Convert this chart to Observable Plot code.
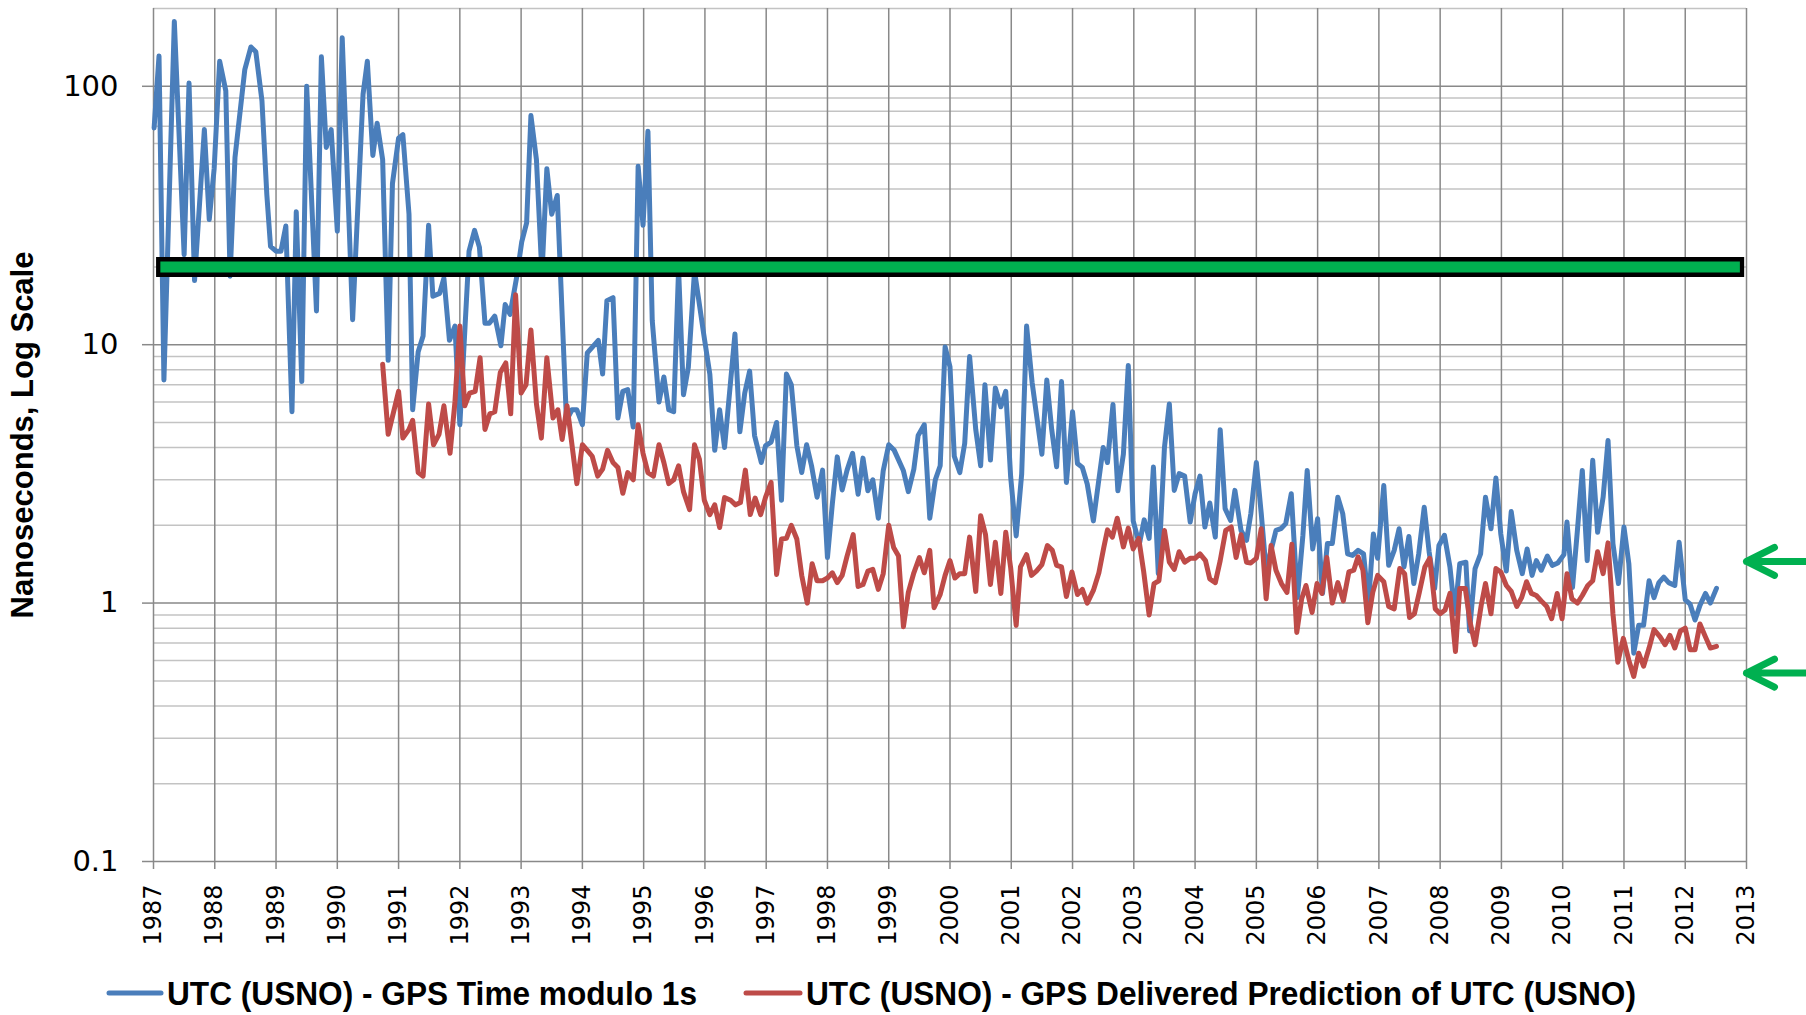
<!DOCTYPE html>
<html><head><meta charset="utf-8">
<script src="https://cdn.jsdelivr.net/npm/d3@7"></script>
<script src="https://cdn.jsdelivr.net/npm/@observablehq/plot@0.6"></script>
<style>
body{margin:0;background:#fff;}
#chart{width:1806px;height:1015px;position:relative;overflow:hidden;}
#chart svg{display:block;}
</style></head><body><div id="chart"></div>
<script>
// ---- Data ----
const blueYear = [1987.01,1987.09,1987.17,1987.34,1987.50,1987.58,1987.67,1987.83,1987.91,1987.99,1988.08,1988.18,1988.25,1988.33,1988.49,1988.59,1988.67,1988.77,1988.85,1988.91,1989.00,1989.08,1989.16,1989.26,1989.33,1989.42,1989.50,1989.66,1989.74,1989.82,1989.90,1990.00,1990.08,1990.25,1990.42,1990.49,1990.58,1990.65,1990.74,1990.83,1990.90,1991.00,1991.07,1991.17,1991.23,1991.32,1991.40,1991.49,1991.56,1991.67,1991.74,1991.83,1991.92,1992.00,1992.15,1992.24,1992.32,1992.41,1992.48,1992.57,1992.67,1992.74,1992.82,1992.93,1993.01,1993.09,1993.16,1993.25,1993.34,1993.42,1993.50,1993.59,1993.74,1993.83,1993.91,1994.00,1994.08,1994.26,1994.33,1994.40,1994.50,1994.58,1994.66,1994.74,1994.83,1994.91,1994.99,1995.07,1995.14,1995.25,1995.33,1995.41,1995.49,1995.57,1995.65,1995.73,1995.83,1995.98,1996.08,1996.16,1996.24,1996.32,1996.49,1996.57,1996.65,1996.73,1996.81,1996.92,1996.99,1997.08,1997.17,1997.25,1997.33,1997.41,1997.50,1997.58,1997.66,1997.74,1997.83,1997.92,1998.00,1998.08,1998.16,1998.24,1998.32,1998.41,1998.50,1998.58,1998.66,1998.74,1998.83,1998.91,1999.00,1999.09,1999.24,1999.32,1999.41,1999.48,1999.58,1999.67,1999.76,1999.84,1999.92,2000.00,2000.07,2000.16,2000.24,2000.32,2000.42,2000.50,2000.57,2000.66,2000.74,2000.83,2000.91,2000.99,2001.08,2001.17,2001.25,2001.34,2001.41,2001.50,2001.58,2001.66,2001.74,2001.82,2001.90,2002.00,2002.08,2002.16,2002.24,2002.34,2002.42,2002.50,2002.57,2002.66,2002.74,2002.83,2002.91,2002.99,2003.09,2003.17,2003.25,2003.32,2003.40,2003.50,2003.58,2003.66,2003.74,2003.83,2003.92,2004.00,2004.08,2004.16,2004.24,2004.33,2004.41,2004.49,2004.58,2004.65,2004.75,2004.84,2004.91,2005.00,2005.08,2005.16,2005.24,2005.32,2005.40,2005.48,2005.57,2005.67,2005.76,2005.83,2005.92,2006.00,2006.08,2006.16,2006.24,2006.33,2006.41,2006.49,2006.57,2006.66,2006.75,2006.83,2006.91,2006.98,2007.08,2007.16,2007.25,2007.33,2007.41,2007.49,2007.57,2007.65,2007.74,2007.82,2007.91,2007.98,2008.07,2008.16,2008.24,2008.32,2008.42,2008.48,2008.57,2008.66,2008.74,2008.83,2008.91,2008.99,2009.08,2009.16,2009.25,2009.34,2009.42,2009.50,2009.57,2009.65,2009.75,2009.83,2009.92,2010.02,2010.07,2010.16,2010.24,2010.32,2010.40,2010.49,2010.57,2010.66,2010.74,2010.82,2010.91,2011.00,2011.08,2011.16,2011.24,2011.32,2011.41,2011.49,2011.57,2011.65,2011.73,2011.83,2011.90,2012.00,2012.08,2012.16,2012.24,2012.33,2012.41,2012.51];
const blueNs = [69,131,7.3,178,22.3,103,17.7,68,30.5,48,125,96,18.4,53,116,142,136,88,38,24,23,23,28.8,5.5,32.7,7.2,100,13.5,130,58,68,27.5,154,12.5,93,125,54,72,52,8.7,42,63,65,32,5.6,9.4,10.8,29,15.4,15.8,18.1,10.4,11.8,4.9,23,27.7,23.8,12.1,12.1,12.9,9.9,14.3,13.1,18.4,25,29.6,77,52,18.7,48,32,37.8,5.1,5.6,5.6,4.9,9.3,10.4,7.7,14.8,15.2,5.2,6.6,6.7,4.8,49,29,67,12.4,6.0,7.5,5.6,5.5,19.6,6.4,8.2,19.3,11.0,7.7,3.9,5.6,4.0,11.0,4.6,6.5,7.9,4.45,3.5,4.07,4.2,5.0,2.5,7.7,7.0,4.07,3.2,4.1,3.4,2.57,3.27,1.5,2.43,3.68,2.74,3.27,3.8,2.64,3.64,2.72,3.0,2.13,3.25,4.1,3.9,3.25,2.7,3.3,4.45,4.9,2.13,3.0,3.4,9.8,8.2,3.7,3.2,4.15,9.0,4.7,3.4,7.0,3.58,6.8,5.75,6.6,3.08,1.82,3.16,11.8,7.15,5.4,3.77,7.3,4.7,3.37,7.2,2.93,5.5,3.47,3.35,2.89,2.08,2.89,4.0,3.5,5.87,2.72,3.77,8.3,2.08,1.69,2.1,1.78,3.36,1.3,4.0,5.9,2.73,3.17,3.1,2.06,2.65,3.1,1.97,2.44,1.8,4.69,2.32,2.09,2.73,1.91,1.75,2.22,3.5,2.22,1.34,1.6,1.91,1.94,2.03,2.65,1.05,1.83,3.26,1.62,2.12,1.09,1.7,1.7,2.57,2.22,1.55,1.53,1.6,1.55,1.0,1.85,1.49,2.85,1.4,1.6,1.94,1.38,1.81,1.19,1.55,2.35,1.58,1.14,1.67,1.83,1.38,0.91,1.42,1.44,0.78,1.36,1.55,2.57,1.94,3.05,1.85,1.33,2.26,1.6,1.3,1.62,1.28,1.46,1.34,1.52,1.4,1.43,1.54,2.06,1.15,1.91,3.26,1.46,3.57,1.88,2.57,4.26,1.7,1.19,1.97,1.42,0.64,0.82,0.82,1.22,1.05,1.2,1.26,1.2,1.17,1.72,1.03,0.99,0.86,0.98,1.09,1.0,1.14];

const redYear = [1990.74,1990.83,1991.00,1991.07,1991.17,1991.23,1991.32,1991.40,1991.49,1991.57,1991.66,1991.74,1991.84,1991.92,1992.00,1992.08,1992.16,1992.25,1992.33,1992.41,1992.49,1992.57,1992.66,1992.75,1992.83,1992.91,1993.00,1993.08,1993.16,1993.25,1993.33,1993.42,1993.52,1993.60,1993.67,1993.75,1993.91,1994.00,1994.08,1994.16,1994.25,1994.33,1994.41,1994.50,1994.58,1994.66,1994.74,1994.83,1994.91,1994.99,1995.07,1995.16,1995.25,1995.33,1995.41,1995.49,1995.57,1995.65,1995.75,1995.83,1995.91,1995.99,1996.08,1996.16,1996.24,1996.32,1996.42,1996.50,1996.58,1996.66,1996.74,1996.82,1996.91,1996.99,1997.08,1997.17,1997.25,1997.33,1997.41,1997.50,1997.58,1997.67,1997.75,1997.83,1997.92,1998.00,1998.08,1998.16,1998.24,1998.32,1998.42,1998.50,1998.58,1998.66,1998.74,1998.83,1998.91,1999.00,1999.08,1999.16,1999.24,1999.32,1999.41,1999.50,1999.58,1999.67,1999.74,1999.84,1999.92,2000.00,2000.08,2000.16,2000.24,2000.32,2000.42,2000.50,2000.58,2000.66,2000.74,2000.83,2000.91,2000.99,2001.08,2001.15,2001.25,2001.33,2001.41,2001.50,2001.59,2001.67,2001.74,2001.82,2001.90,2001.99,2002.08,2002.16,2002.24,2002.34,2002.43,2002.51,2002.57,2002.65,2002.73,2002.83,2002.91,2002.99,2003.08,2003.16,2003.25,2003.33,2003.41,2003.50,2003.58,2003.66,2003.74,2003.83,2003.92,2004.00,2004.08,2004.17,2004.24,2004.33,2004.41,2004.50,2004.59,2004.67,2004.75,2004.84,2004.91,2005.00,2005.08,2005.16,2005.24,2005.32,2005.41,2005.50,2005.58,2005.66,2005.74,2005.81,2005.91,2005.99,2006.07,2006.15,2006.24,2006.33,2006.42,2006.51,2006.59,2006.66,2006.74,2006.82,2006.90,2006.98,2007.08,2007.16,2007.25,2007.34,2007.42,2007.50,2007.58,2007.66,2007.75,2007.83,2007.92,2008.00,2008.08,2008.16,2008.25,2008.32,2008.41,2008.49,2008.57,2008.67,2008.74,2008.83,2008.91,2008.99,2009.08,2009.16,2009.25,2009.33,2009.41,2009.49,2009.57,2009.65,2009.74,2009.82,2009.91,2009.99,2010.07,2010.15,2010.24,2010.32,2010.41,2010.49,2010.57,2010.66,2010.74,2010.82,2010.90,2010.99,2011.08,2011.16,2011.24,2011.32,2011.41,2011.49,2011.59,2011.67,2011.75,2011.83,2011.92,2012.00,2012.08,2012.16,2012.24,2012.33,2012.41,2012.51];
const redNs = [8.4,4.5,6.6,4.35,4.7,5.1,3.2,3.1,5.9,4.1,4.5,5.8,3.8,6.0,11.8,5.8,6.5,6.6,8.9,4.7,5.4,5.5,7.8,8.5,5.4,15.6,6.5,7.0,11.4,5.9,4.35,8.9,5.2,5.6,4.3,5.8,2.9,4.1,3.9,3.7,3.1,3.3,3.9,3.5,3.35,2.66,3.2,3.0,4.9,3.8,3.2,3.1,4.1,3.5,2.9,3.0,3.4,2.7,2.3,4.1,3.6,2.5,2.2,2.4,1.96,2.56,2.5,2.4,2.45,3.27,2.2,2.55,2.2,2.57,2.93,1.29,1.77,1.78,2.0,1.77,1.28,1.0,1.42,1.22,1.22,1.25,1.31,1.2,1.28,1.52,1.84,1.16,1.18,1.33,1.35,1.13,1.3,2.0,1.64,1.52,0.81,1.1,1.31,1.5,1.31,1.6,0.96,1.08,1.28,1.46,1.25,1.3,1.3,1.8,1.11,2.18,1.84,1.18,1.72,1.09,1.88,1.37,0.82,1.38,1.54,1.28,1.33,1.41,1.67,1.6,1.4,1.38,1.06,1.32,1.08,1.13,1.0,1.12,1.31,1.64,1.92,1.8,2.13,1.65,1.95,1.62,1.78,1.33,0.9,1.19,1.22,1.91,1.44,1.35,1.58,1.44,1.49,1.49,1.55,1.46,1.24,1.2,1.46,1.91,1.97,1.5,1.84,1.44,1.43,1.49,1.94,1.04,1.67,1.34,1.19,1.1,1.69,0.77,1.04,1.17,0.92,1.19,1.09,1.5,1.0,1.2,1.02,1.32,1.34,1.51,1.34,0.84,1.1,1.28,1.21,0.97,0.95,1.36,1.3,0.88,0.91,1.1,1.38,1.49,0.95,0.91,0.94,1.09,0.65,1.14,1.14,0.84,0.69,0.98,1.19,0.91,1.36,1.32,1.17,1.11,0.97,1.05,1.21,1.09,1.07,1.02,0.97,0.87,1.09,0.87,1.3,1.04,1.0,1.07,1.17,1.22,1.58,1.3,1.71,0.91,0.59,0.73,0.6,0.52,0.64,0.57,0.67,0.79,0.74,0.69,0.75,0.67,0.78,0.8,0.66,0.66,0.83,0.74,0.67,0.68];

const yearTicks = d3.range(1987, 2014);
const yMajor = [0.1, 1, 10, 100];
const yMinor = [0.2,0.3,0.4,0.5,0.6,0.7,0.8,0.9,2,3,4,5,6,7,8,9,20,30,40,50,60,70,80,90,200];
const specLevel = 20;           // 20 ns specification bar
const specFrom = 1987.05, specTo = 2012.97;
const arrowLevels = [1.45, 0.536];
const seriesNames = ["UTC (USNO) - GPS Time modulo 1s", "UTC (USNO) - GPS Delivered Prediction of UTC (USNO)"];
const seriesColors = ["#4a7ebb", "#be4b48"];
const yTitle = "Nanoseconds, Log Scale";

const blue = blueYear.map((x, i) => ({x, y: blueNs[i]}));
const red = redYear.map((x, i) => ({x, y: redNs[i]}));
const spec = [{y: specLevel, x1: specFrom, x2: specTo}];
const specInner = [{y: specLevel, x1: specFrom + 0.07, x2: specTo - 0.07}];
const arrows = arrowLevels.map(v => ({v, x1: 2014.6, x2: 2013}));

const gridColor = "#898989", minorColor = "#c3c3c3";
const boldFont = "'Liberation Sans Narrow', 'Arial Narrow', 'Liberation Sans', sans-serif";

const chart = Plot.plot({
  width: 1806, height: 955,
  marginLeft: 153, marginRight: 60, marginTop: 8, marginBottom: 94,
  style: {fontFamily: "DejaVu Sans", background: "white", color: "black"},
  x: {domain: [1987, 2013], axis: null},
  y: {type: "log", domain: [0.1, 200], axis: null},
  marks: [
    Plot.gridY(yMinor, {stroke: minorColor, strokeOpacity: 1, strokeWidth: 1.5}),
    Plot.gridY(yMajor, {stroke: gridColor, strokeOpacity: 1, strokeWidth: 1.5}),
    Plot.gridX(yearTicks, {stroke: gridColor, strokeOpacity: 1, strokeWidth: 1.5}),
    Plot.axisY(yMajor, {tickSize: 11, tickPadding: 24, fontSize: 29, stroke: gridColor, strokeWidth: 1.5, fill: "black", tickFormat: d => String(d), label: null}),
    Plot.axisX(yearTicks, {tickSize: 8, tickPadding: 15, tickRotate: -90, fontSize: 24, stroke: gridColor, strokeWidth: 1.5, fill: "black", tickFormat: d => String(d), label: null}),
    Plot.line(blue, {x: "x", y: "y", stroke: seriesColors[0], strokeWidth: 5, strokeLinejoin: "round"}),
    Plot.line(red, {x: "x", y: "y", stroke: seriesColors[1], strokeWidth: 5, strokeLinejoin: "round"}),
    Plot.ruleY(spec, {y: "y", x1: "x1", x2: "x2", stroke: "black", strokeWidth: 20}),
    Plot.ruleY(specInner, {y: "y", x1: "x1", x2: "x2", stroke: "#00b050", strokeWidth: 11}),
    Plot.arrow(arrows, {x1: "x1", x2: "x2", y1: "v", y2: "v", stroke: "#00b050", strokeWidth: 7, headLength: 6.7, headAngle: 53, strokeLinecap: "round", strokeLinejoin: "round"}),
    Plot.text([yTitle], {frameAnchor: "left", textAnchor: "middle", dx: -130, rotate: -90, fontSize: 31, fontWeight: "bold", fontFamily: boldFont, fill: "black", ariaLabel: "ytitle"})
  ]
});
document.getElementById("chart").appendChild(chart);
// scale the y title's font so that its length matches the reference (367px)
d3.select(chart).selectAll('g[aria-label="ytitle"] text').each(function() {
  const len = this.getComputedTextLength();
  if (len > 0) d3.select(this).attr("font-size", 31 * 367 / len);
});

// Legend below the chart
const leg = d3.select("#chart").append("svg").attr("width", 1806).attr("height", 60);
const legItems = [
  {name: seriesNames[0], color: seriesColors[0], lx1: 109, lx2: 161, tx: 167, tl: 530},
  {name: seriesNames[1], color: seriesColors[1], lx1: 746, lx2: 800, tx: 806, tl: 830}
];
const g = leg.selectAll("g").data(legItems).join("g");
g.append("line").attr("x1", d => d.lx1).attr("x2", d => d.lx2).attr("y1", 38).attr("y2", 38)
  .attr("stroke", d => d.color).attr("stroke-width", 5).attr("stroke-linecap", "round");
g.append("text").attr("x", d => d.tx).attr("y", 38).attr("dy", "0.35em")
  .attr("font-family", boldFont)
  .attr("font-weight", "bold").attr("font-size", 34).attr("fill", "black")
  .attr("textLength", d => d.tl).attr("lengthAdjust", "spacingAndGlyphs")
  .text(d => d.name);
</script></body></html>
